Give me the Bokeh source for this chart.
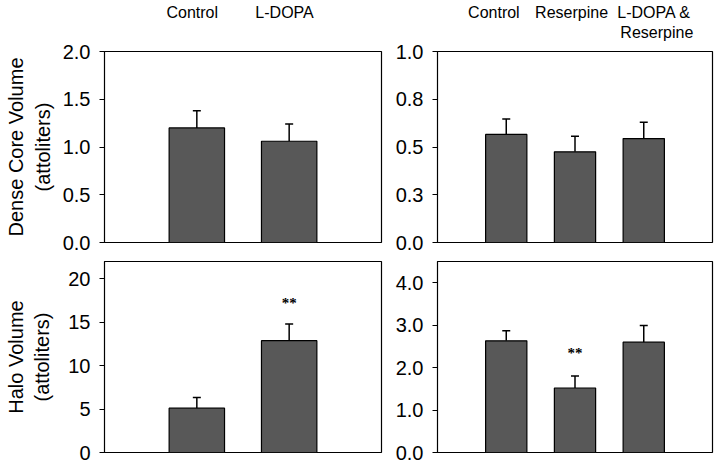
from bokeh.plotting import figure
from bokeh.layouts import gridplot
from bokeh.models import (FixedTicker, LinearAxis, Whisker, TeeHead,
                          ColumnDataSource, Range1d)
from bokeh.embed import file_html
from bokeh.resources import INLINE

# ---------------- data ----------------
left_groups_line1 = ["Control", "L-DOPA"]
left_groups_line2 = [" ", ""]
right_groups_line1 = ["Control", "Reserpine", "L-DOPA &"]
right_groups_line2 = ["", "", "Reserpine"]

core_left_mean = [1.20, 1.06]
core_left_sem = [0.18, 0.18]
core_right_mean = [0.566, 0.475, 0.544]
core_right_sem = [0.080, 0.081, 0.085]

halo_left_mean = [5.11, 12.88]
halo_left_sem = [1.23, 1.92]
halo_right_mean = [2.63, 1.52, 2.60]
halo_right_sem = [0.24, 0.28, 0.39]

halo_left_sig = ["", "**"]
halo_right_sig = ["", "**", ""]

core_left_ticks = [0.0, 0.5, 1.0, 1.5, 2.0]
core_left_labels = ["0.0", "0.5", "1.0", "1.5", "2.0"]
core_right_ticks = [0.0, 0.25, 0.5, 0.75, 1.0]
core_right_labels = ["0.0", "0.3", "0.5", "0.8", "1.0"]
halo_left_ticks = [0, 5, 10, 15, 20]
halo_left_labels = ["0", "5", "10", "15", "20"]
halo_right_ticks = [0.0, 1.0, 2.0, 3.0, 4.0]
halo_right_labels = ["0.0", "1.0", "2.0", "3.0", "4.0"]

core_left_ymax = 2.0
core_right_ymax = 1.0
halo_left_ymax = 22
halo_right_ymax = 4.5

FONT = "Liberation Sans"
BAR = "#585858"


def panel(means, sems, ticks, labels, ymax, width, height, borders,
          ylabel=None, sig=None, sig_offset=-20, label_standoff=6):
    n = len(means)
    xs = list(range(1, n + 1))
    p = figure(width=width, height=height, output_backend="svg", toolbar_location=None,
               x_range=Range1d(0, n + 1), y_range=Range1d(0, ymax),
               min_border_left=borders[0], min_border_right=borders[1],
               min_border_top=borders[2], min_border_bottom=borders[3])
    p.background_fill_color = "white"
    p.border_fill_color = "white"
    p.outline_line_color = "black"
    p.outline_line_width = 1.2
    p.grid.visible = False
    p.xaxis.visible = False

    src = ColumnDataSource(dict(x=xs, top=means,
                                upper=[m + s for m, s in zip(means, sems)]))
    p.vbar(x="x", top="top", bottom=0, width=0.6, source=src,
           fill_color=BAR, line_color="black", line_width=1.2)
    w = Whisker(source=src, base="x", lower="top", upper="upper",
                line_color="black", line_width=1.5,
                upper_head=TeeHead(size=8, line_color="black", line_width=1.5),
                lower_head=None)
    p.add_layout(w)

    if sig:
        ssrc = ColumnDataSource(dict(x=xs, y=[m + s for m, s in zip(means, sems)], t=sig))
        p.text(x="x", y="y", text="t", source=ssrc, y_offset=sig_offset,
               text_align="center", text_baseline="middle",
               text_font="Liberation Sans", text_font_size="15px",
               text_font_style="bold", text_color="black")

    ax = p.yaxis[0]
    ax.ticker = FixedTicker(ticks=ticks)
    ax.major_label_overrides = {t: l for t, l in zip(ticks, labels)}
    ax.minor_tick_line_color = None
    ax.major_tick_in = 0
    ax.major_tick_out = 5
    ax.major_tick_line_color = "black"
    ax.axis_line_color = "black"
    ax.major_label_standoff = 9
    ax.major_label_text_font = FONT
    ax.major_label_text_font_size = "20px"
    ax.major_label_text_color = "black"
    if ylabel:
        ax.axis_label = ylabel
        ax.axis_label_text_font = FONT
        ax.axis_label_text_font_size = "20px"
        ax.axis_label_text_font_style = "normal"
        ax.axis_label_text_color = "black"
        ax.axis_label_standoff = label_standoff
    return p


def category_axis(p, names, shifts, standoff):
    pos = [i + 1 + s for i, s in enumerate(shifts)]
    keep = [(x, t) for x, t in zip(pos, names) if t]
    ax = LinearAxis(ticker=FixedTicker(ticks=[x for x, _ in keep]),
                    major_label_overrides={x: t for x, t in keep})
    ax.axis_line_color = None
    ax.major_tick_line_color = None
    ax.minor_tick_line_color = None
    ax.major_tick_in = 0
    ax.major_tick_out = 0
    ax.major_label_standoff = standoff
    ax.major_label_text_font = FONT
    ax.major_label_text_font_size = "16px"
    ax.major_label_text_color = "black"
    p.add_layout(ax, "above")
    return ax


p1 = panel(core_left_mean, core_left_sem, core_left_ticks, core_left_labels,
           core_left_ymax, 390, 254, (104, 9, 49, 12),
           ylabel="Dense Core Volume\n(attoliters)")
category_axis(p1, left_groups_line2, [0, 0], 11)
category_axis(p1, left_groups_line1, [-0.05, -0.05], 0)

p2 = panel(core_right_mean, core_right_sem, core_right_ticks, core_right_labels,
           core_right_ymax, 330, 254, (47, 8, 49, 12))
category_axis(p2, right_groups_line2, [0, 0, 0.19], 11)
category_axis(p2, right_groups_line1, [-0.18, -0.05, 0.15], 0)

p3 = panel(halo_left_mean, halo_left_sem, halo_left_ticks, halo_left_labels,
           halo_left_ymax, 390, 208, (104, 9, 7, 10),
           ylabel="Halo Volume\n(attoliters)", sig=halo_left_sig, sig_offset=-21,
           label_standoff=12)
p4 = panel(halo_right_mean, halo_right_sem, halo_right_ticks, halo_right_labels,
           halo_right_ymax, 330, 208, (47, 8, 7, 10), sig=halo_right_sig,
           sig_offset=-23)

grid = gridplot([[p1, p2], [p3, p4]], toolbar_location=None)

open("out.html", "w").write(file_html(grid, INLINE))
